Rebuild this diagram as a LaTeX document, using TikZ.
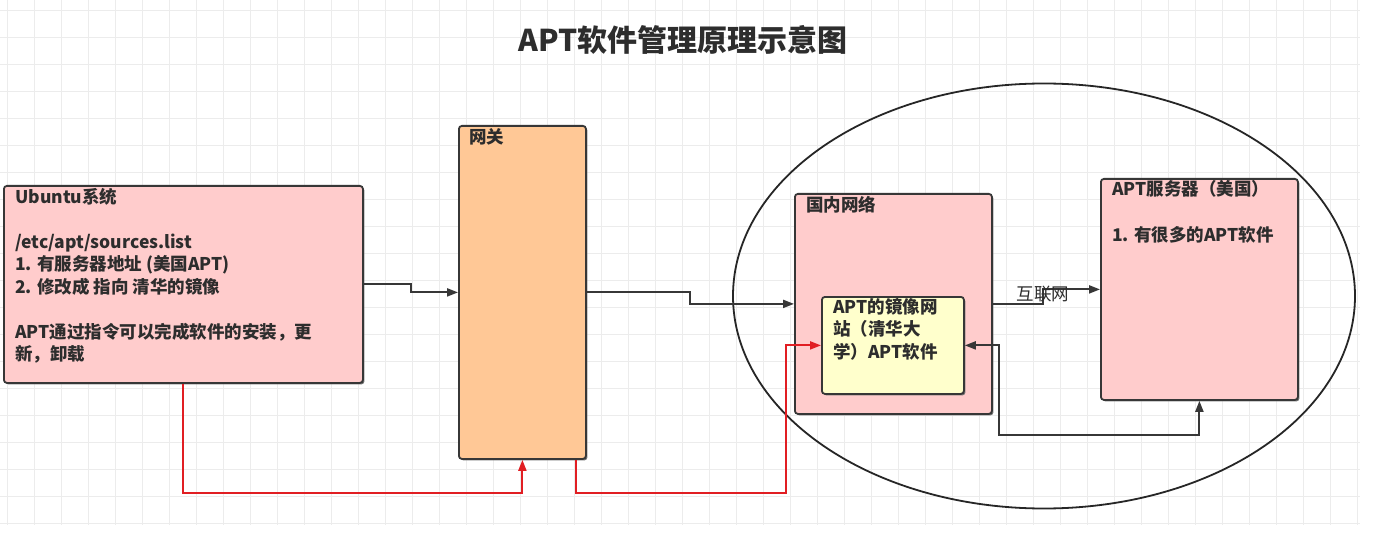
\documentclass[tikz,border=0pt]{standalone}
\usepackage{fontspec}
\setmainfont{Noto Sans CJK SC}
\usetikzlibrary{shadows,arrows.meta,shapes.geometric}
\definecolor{pinkbox}{RGB}{255,204,204}
\definecolor{orangebox}{RGB}{255,200,150}
\definecolor{yellowbox}{RGB}{255,255,204}
\definecolor{edgegray}{RGB}{55,55,55}
\definecolor{txtgray}{RGB}{45,45,45}
\definecolor{linered}{RGB}{225,30,35}
\tikzset{
  boxstyle/.style={draw=edgegray, line width=1.8pt, rounded corners=3pt, anchor=north west, inner sep=0pt,
    drop shadow={shadow xshift=1.5pt, shadow yshift=-1.5pt, fill=black!55, opacity=1}},
  txt/.style={anchor=north west, align=left, inner sep=0pt, text=txtgray, font=\bfseries\fontsize{17.5}{22.5}\selectfont},
  conn/.style={draw=edgegray, line width=2pt, -{Triangle[length=11pt,width=8pt]}},
  redconn/.style={draw=linered, line width=2pt, -{Triangle[length=11pt,width=8pt]}},
}
\begin{document}
\begin{tikzpicture}[x=1pt,y=-1pt]
\useasboundingbox (0,0) rectangle (1390,540);
\fill[white] (0,0) rectangle (1390,540);
% background grid
\foreach \gx in {7,34,...,1360} \draw[gray!15, line width=0.7pt] (\gx,0) -- (\gx,525);
\foreach \gy in {10,37,...,525} \draw[gray!15, line width=0.7pt] (0,\gy) -- (1360,\gy);

% title
\node[font=\bfseries\fontsize{30}{34}\selectfont, text=txtgray, inner sep=0pt] (title) at (683,40) {APT软件管理原理示意图};

% ellipse
\node[draw=black!85, line width=1.8pt, ellipse, minimum width=622pt, minimum height=425pt, inner sep=0pt] (net) at (1044,296) {};

% boxes
\node[boxstyle, fill=pinkbox, minimum width=359pt, minimum height=197pt] (ubuntu) at (3,185) {};
\node[txt] (ubuntutext) at ([shift={(12,3)}]ubuntu.north west) {Ubuntu系统\\[22.5pt]/etc/apt/sources.list\\1. 有服务器地址 (美国APT)\\2. 修改成 指向 清华的镜像\\[22.5pt]APT通过指令可以完成软件的安装，更\\新，卸载};

\node[boxstyle, fill=orangebox, minimum width=127pt, minimum height=333pt] (gw) at (458,125) {};
\node[txt] (gwtext) at ([shift={(11,3)}]gw.north west) {网关};

\node[boxstyle, fill=pinkbox, minimum width=197pt, minimum height=220pt] (dom) at (794,193) {};
\node[txt] (domtext) at ([shift={(12,3)}]dom.north west) {国内网络};

\node[boxstyle, fill=yellowbox, minimum width=142pt, minimum height=97pt] (mirror) at (821,296) {};
\node[txt] (mirrortext) at ([shift={(12,2)}]mirror.north west) {APT的镜像网\\站（清华大\\学）APT软件};

\node[boxstyle, fill=pinkbox, minimum width=197pt, minimum height=221pt] (srv) at (1100,178) {};
\node[txt] (srvtext) at ([shift={(12,2)}]srv.north west) {APT服务器（美国）\\[24pt]1. 有很多的APT软件};

% black connectors
\draw[conn] (ubuntu.east) -- ++(47,0) |- (gw.west);
\draw[conn] (gw.east) -- ++(103,0) |- (dom.west);
\draw[conn] (dom.east) -- ++(50,0) |- (srv.west);
\node[font=\fontsize{17.5}{20}\selectfont, text=txtgray, inner sep=0pt] (inet) at (1043,294) {互联网};
\coordinate (rr) at (999,435);
\draw[conn, {Triangle[length=11pt,width=8pt]}-{Triangle[length=11pt,width=8pt]}] (mirror.east) -| (rr) -| (srv.south);

% red connectors
\coordinate (rb) at (300,493);
\draw[redconn] (ubuntu.south) |- (rb) -| (gw.south);
\coordinate (rs) at ([xshift=-11pt]gw.south east);
\coordinate (rc) at (786,493);
\draw[redconn] (rs) |- (rc) |- (mirror.west);
\end{tikzpicture}
\end{document}
